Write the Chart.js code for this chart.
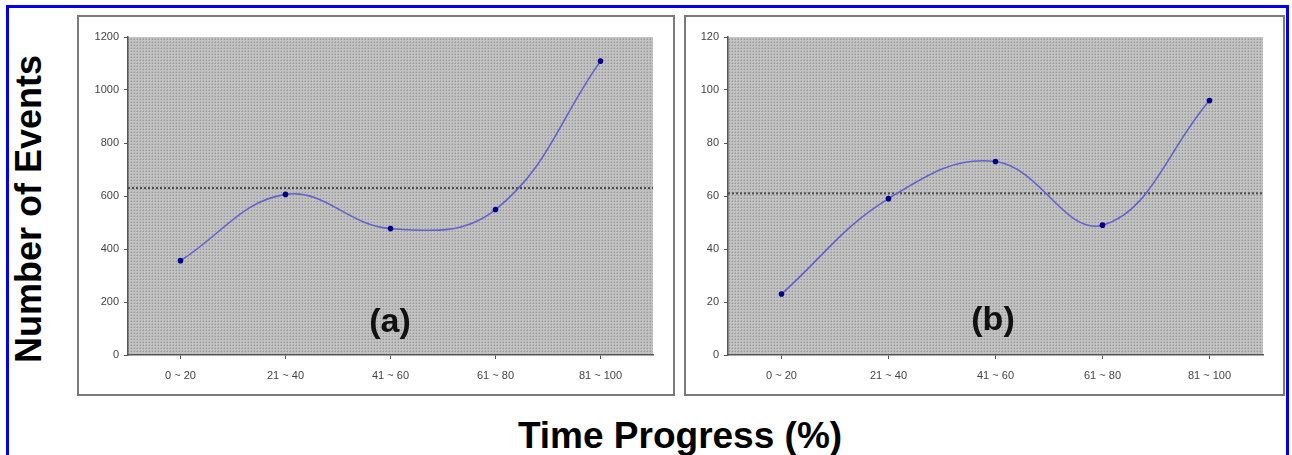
<!DOCTYPE html>
<html>
<head>
<meta charset="utf-8">
<script src="https://cdn.jsdelivr.net/npm/chart.js@4"></script>
<style>
  body { margin: 0; width: 1292px; height: 455px; background: #fff; overflow: hidden; position: relative;
         font-family: 'Liberation Sans', Arial, sans-serif; }
  #frame { position: absolute; left: 6px; top: 5px; width: 1283px; height: 470px;
           border: 3px solid #0000ee; box-sizing: border-box; }
  .panel { position: absolute; top: 15px; height: 381px; border: 2px solid #7a7a7a; box-sizing: border-box; background: #fff; }
  #panelA { left: 77px; width: 598px; }
  #panelB { left: 684px; width: 601px; }
  .panel canvas { position: absolute; left: 0; top: 0; }
  .tag { position: absolute; font-weight: bold; font-size: 34px; color: #111; transform: translate(-50%, -50%); white-space: nowrap; }
  #ytitle { position: absolute; left: 29px; top: 209px; font-weight: bold; font-size: 36px; color: #000;
            transform: translate(-50%, -50%) rotate(-90deg); white-space: nowrap; }
  #xtitle { position: absolute; left: 680px; top: 436px; font-weight: bold; font-size: 37px; color: #000;
            transform: translate(-50%, -50%); white-space: nowrap; }
</style>
</head>
<body>
<div id="frame"></div>
<div id="ytitle">Number of Events</div>
<div class="panel" id="panelA"><canvas id="chartA" width="594" height="377"></canvas></div>
<div class="panel" id="panelB"><canvas id="chartB" width="597" height="377"></canvas></div>
<div class="tag" style="left:390px; top:320px;">(a)</div>
<div class="tag" style="left:993px; top:318px;">(b)</div>
<div id="xtitle">Time Progress (%)</div>

<script>
// dữ liệu
const categories = ['0 ~ 20', '21 ~ 40', '41 ~ 60', '61 ~ 80', '81 ~ 100'];
const eventsA = [356, 606, 477, 549, 1109];
const eventsB = [23, 59, 73, 49, 96];
const meanA = 630;
const meanB = 61;

// nền chấm xám giống Excel
function makePattern() {
    const c = document.createElement('canvas');
    c.width = 3; c.height = 3;
    const g = c.getContext('2d');
    g.fillStyle = '#c2c2c2';
    g.fillRect(0, 0, 3, 3);
    g.fillStyle = '#9a9a9a';
    g.fillRect(1, 1, 1, 1);
    g.fillStyle = '#b0b0b0';
    g.fillRect(0, 1, 1, 1);
    g.fillRect(1, 0, 1, 1);
    return g.createPattern(c, 'repeat');
}

const plotBackground = {
    id: 'plotBackground',
    beforeDraw(chart) {
        const { ctx, chartArea } = chart;
        ctx.save();
        ctx.fillStyle = makePattern();
        ctx.fillRect(chartArea.left, chartArea.top, chartArea.right - chartArea.left, chartArea.bottom - chartArea.top);
        ctx.restore();
    }
};

const meanLine = {
    id: 'meanLine',
    beforeDatasetsDraw(chart, args, opts) {
        const { ctx, chartArea } = chart;
        const y = chart.scales.y.getPixelForValue(opts.value);
        ctx.save();
        ctx.strokeStyle = '#4a4a4a';
        ctx.lineWidth = 2;
        ctx.setLineDash([2, 2]);
        ctx.beginPath();
        ctx.moveTo(chartArea.left, y);
        ctx.lineTo(chartArea.right, y);
        ctx.stroke();
        ctx.restore();
    }
};

function createChart(id, values, maxY, step, mean, yWidth) {
    const ctx = document.getElementById(id).getContext('2d');
    return new Chart(ctx, {
        type: 'line',
        data: {
            labels: categories,
            datasets: [{
                data: values,
                borderColor: '#6363cc',
                borderWidth: 1.6,
                tension: 0.4,
                fill: false,
                pointRadius: 2.8,
                pointBackgroundColor: '#00008b',
                pointBorderColor: '#00008b',
                pointBorderWidth: 0
            }]
        },
        options: {
            responsive: false,
            animation: false,
            layout: { padding: { top: 20, right: 20, left: 0, bottom: 0 } },
            plugins: {
                legend: { display: false },
                tooltip: { enabled: false },
                meanLine: { value: mean }
            },
            scales: {
                x: {
                    offset: true,
                    grid: { drawOnChartArea: false, drawTicks: true, tickLength: 4, color: '#555' },
                    border: { display: true, color: '#555', width: 1.5 },
                    ticks: { font: { size: 11, family: "'Liberation Sans', Arial" }, color: '#444', padding: 10, maxRotation: 0 },
                    afterFit: scale => { scale.height = 39; }
                },
                y: {
                    min: 0,
                    max: maxY,
                    ticks: {
                        stepSize: step,
                        font: { size: 11, family: "'Liberation Sans', Arial" },
                        color: '#444',
                        padding: 5,
                        callback: value => String(value) // không dùng dấu phẩy
                    },
                    grid: { drawOnChartArea: false, drawTicks: true, tickLength: 4, color: '#555' },
                    border: { display: true, color: '#555', width: 1.5 },
                    afterFit: scale => { scale.width = yWidth; }
                }
            }
        },
        plugins: [plotBackground, meanLine]
    });
}

createChart('chartA', eventsA, 1200, 200, meanA, 49);
createChart('chartB', eventsB, 120, 20, meanB, 42);
</script>
</body>
</html>
